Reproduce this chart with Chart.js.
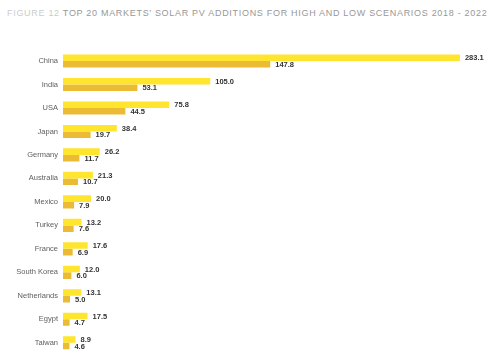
<!DOCTYPE html>
<html>
<head>
<meta charset="utf-8">
<script src="https://cdn.jsdelivr.net/npm/chart.js@4/dist/chart.umd.min.js"></script>
<style>
  html, body { margin: 0; padding: 0; background: #ffffff; }
  #wrap { position: relative; width: 500px; height: 356px; overflow: hidden; }
  #title { position: absolute; left: 7px; top: 7.5px; white-space: nowrap;
           font-family: "Liberation Sans", Arial, sans-serif; font-size: 9px;
           letter-spacing: 0.7px; color: #989898; }
  #title .fig { color: #cccccc; }
  canvas { position: absolute; left: 0; top: 0; }
</style>
</head>
<body>
<div id="wrap">
  <div id="title"><span class="fig">FIGURE 12</span> TOP 20 MARKETS’ SOLAR PV ADDITIONS FOR HIGH AND LOW SCENARIOS 2018 - 2022</div>
  <canvas id="c" width="500" height="364"></canvas>
</div>
<script>
const categories = ["China", "India", "USA", "Japan", "Germany", "Australia", "Mexico", "Turkey", "France", "South Korea", "Netherlands", "Egypt", "Taiwan"];
const highScenario = [283.1, 105.0, 75.8, 38.4, 26.2, 21.3, 20.0, 13.2, 17.6, 12.0, 13.1, 17.5, 8.9];
const lowScenario = [147.8, 53.1, 44.5, 19.7, 11.7, 10.7, 7.9, 7.6, 6.9, 6.0, 5.0, 4.7, 4.6];

const valueLabels = {
  id: 'valueLabels',
  afterDatasetsDraw(chart) {
    const ctx = chart.ctx;
    ctx.save();
    ctx.font = 'bold 7.5px "Liberation Sans", Arial, sans-serif';
    ctx.fillStyle = '#333333';
    ctx.textAlign = 'left';
    ctx.textBaseline = 'middle';
    chart.data.datasets.forEach((ds, di) => {
      chart.getDatasetMeta(di).data.forEach((bar, i) => {
        ctx.fillText(ds.data[i].toFixed(1), bar.x + 5, bar.y + 0.5);
      });
    });
    ctx.restore();
  }
};

new Chart(document.getElementById('c'), {
  type: 'bar',
  data: {
    labels: categories,
    datasets: [
      { label: 'High', data: highScenario, backgroundColor: '#ffe52e', borderWidth: 0,
        barPercentage: 1.0, categoryPercentage: 0.56 },
      { label: 'Low', data: lowScenario, backgroundColor: '#ecbb36', borderWidth: 0,
        barPercentage: 1.0, categoryPercentage: 0.56 }
    ]
  },
  options: {
    indexAxis: 'y',
    responsive: false,
    animation: false,
    devicePixelRatio: 1,
    layout: { padding: { left: 0, right: 16.4, top: 49.3, bottom: 2.5 } },
    plugins: { legend: { display: false }, tooltip: { enabled: false }, title: { display: false } },
    scales: {
      x: { display: false, min: 0, max: 300 },
      y: {
        grid: { display: false, drawTicks: false },
        border: { display: false },
        ticks: { color: '#606060', padding: 5,
                 font: { family: '"Liberation Sans", Arial, sans-serif', size: 7.5 } },
        afterFit(scale) { scale.width = 63; }
      }
    }
  },
  plugins: [valueLabels]
});
</script>
</body>
</html>
